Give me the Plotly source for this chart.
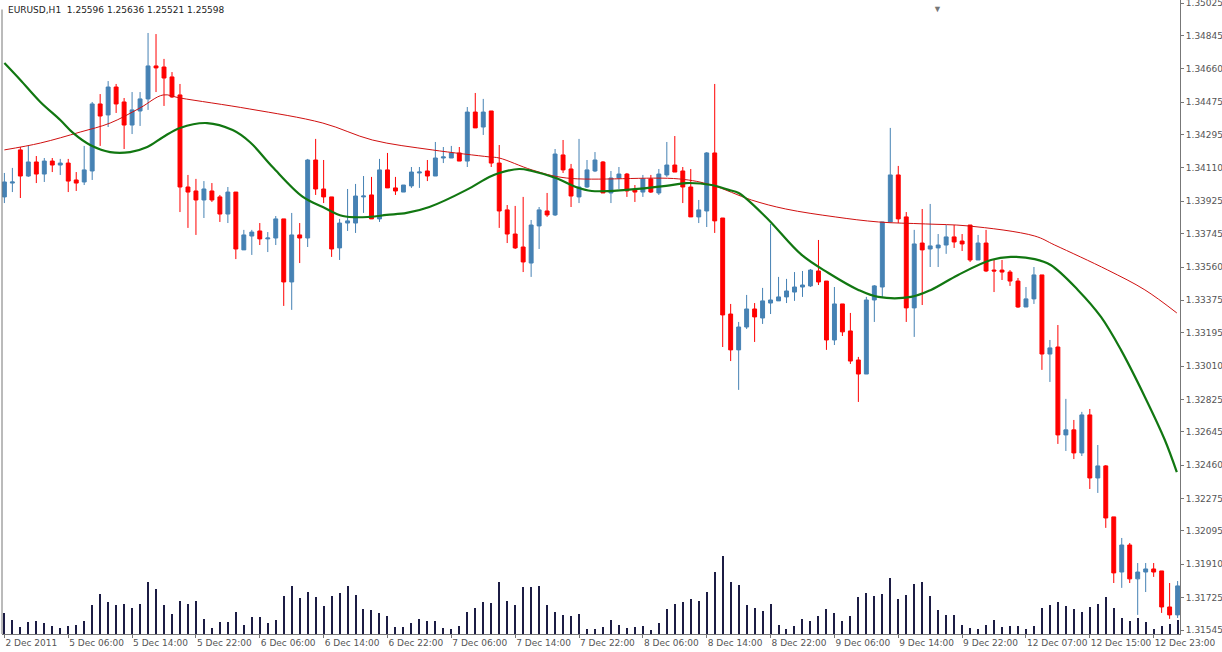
import plotly.graph_objects as go

opens = [1.33949,1.34026,1.34210,1.34065,1.34143,1.34076,1.34148,1.34126,1.34137,1.34043,
1.34032,1.34093,1.34465,1.34404,1.34559,1.34476,1.34348,1.34426,1.34493,1.34676,
1.34670,1.34615,1.34515,1.34004,1.33982,1.33932,1.33982,1.33949,1.33854,1.33976,
1.33655,1.33732,1.33760,1.33716,1.33721,1.33827,1.33477,1.33738,1.33721,1.34154,
1.33993,1.33949,1.33666,1.33804,1.33804,1.33949,1.33960,1.33827,1.34099,1.33999,
1.33976,1.34010,1.34082,1.34093,1.34065,1.34165,1.34165,1.34193,1.34148,1.34420,
1.34337,1.34426,1.34137,1.33877,1.33743,1.33671,1.33582,1.33788,1.33871,1.33849,
1.34182,1.34104,1.33949,1.34004,1.34093,1.34143,1.33971,1.34054,1.34076,1.33988,
1.33976,1.34049,1.33971,1.34071,1.34126,1.34093,1.34004,1.33838,1.33871,1.34193,
1.33832,1.33299,1.33100,1.33227,1.33327,1.33277,1.33360,1.33372,1.33394,1.33421,
1.33449,1.33455,1.33538,1.33482,1.33155,1.33355,1.33205,1.33044,1.32966,1.33377,
1.33449,1.33810,1.34071,1.33838,1.33333,1.33693,1.33660,1.33666,1.33682,1.33727,
1.33704,1.33793,1.33599,1.33693,1.33543,1.33543,1.33532,1.33482,1.33338,1.33383,
1.33516,1.33077,1.33116,1.32628,1.32656,1.32528,1.32739,1.32389,1.32456,1.32173,
1.31867,1.32017,1.31829,1.31867,1.31884,1.31873,1.31673,1.31629]
highs = [1.34082,1.34110,1.34226,1.34232,1.34176,1.34165,1.34165,1.34160,1.34160,1.34087,
1.34232,1.34476,1.34520,1.34592,1.34576,1.34498,1.34531,1.34531,1.34859,1.34853,
1.34715,1.34642,1.34576,1.34071,1.34049,1.34037,1.34026,1.33960,1.34004,1.33976,
1.33766,1.33766,1.33804,1.33754,1.33843,1.33827,1.33860,1.33804,1.34160,1.34271,
1.34154,1.33949,1.33827,1.33993,1.34021,1.34065,1.34060,1.34160,1.34193,1.34060,
1.34015,1.34115,1.34115,1.34154,1.34254,1.34226,1.34232,1.34226,1.34448,1.34526,
1.34493,1.34426,1.34237,1.33904,1.33899,1.33949,1.33821,1.33893,1.33971,1.34215,
1.34265,1.34132,1.34271,1.34154,1.34198,1.34148,1.34093,1.34115,1.34082,1.34015,
1.34071,1.34071,1.34104,1.34254,1.34287,1.34115,1.34104,1.33932,1.34198,1.34576,
1.33832,1.33355,1.33255,1.33405,1.33360,1.33444,1.33799,1.33505,1.33494,1.33532,
1.33538,1.33549,1.33710,1.33482,1.33449,1.33355,1.33305,1.33061,1.33394,1.33460,
1.33810,1.34332,1.34121,1.33865,1.33766,1.33882,1.33910,1.33743,1.33793,1.33793,
1.33743,1.33793,1.33738,1.33766,1.33599,1.33599,1.33543,1.33499,1.33449,1.33560,
1.33516,1.33155,1.33238,1.32828,1.32711,1.32756,1.32772,1.32572,1.32461,1.32173,
1.32056,1.32028,1.31917,1.31917,1.31917,1.31873,1.31806,1.31817]
lows = [1.33915,1.33976,1.33943,1.34060,1.34026,1.34032,1.34087,1.34071,1.33976,1.33982,
1.34015,1.34043,1.34232,1.34337,1.34415,1.34215,1.34298,1.34343,1.34432,1.34531,
1.34454,1.34498,1.33865,1.33777,1.33738,1.33832,1.33921,1.33810,1.33804,1.33604,
1.33655,1.33627,1.33682,1.33643,1.33682,1.33344,1.33322,1.33582,1.33671,1.33960,
1.33915,1.33616,1.33599,1.33760,1.33749,1.33860,1.33827,1.33810,1.33999,1.33960,
1.33976,1.33999,1.33999,1.34037,1.34065,1.34137,1.34165,1.34148,1.34115,1.34332,
1.34293,1.34115,1.33777,1.33693,1.33660,1.33532,1.33505,1.33660,1.33838,1.33843,
1.34082,1.33893,1.33915,1.33999,1.34087,1.33971,1.33915,1.33993,1.33949,1.33921,
1.33949,1.33971,1.33960,1.34060,1.34087,1.33915,1.33838,1.33804,1.33782,1.33749,
1.33116,1.33038,1.32878,1.33216,1.33144,1.33244,1.33299,1.33372,1.33360,1.33372,
1.33394,1.33449,1.33460,1.33100,1.33127,1.33177,1.33022,1.32811,1.32966,1.33255,
1.33394,1.33810,1.33804,1.33255,1.33172,1.33349,1.33560,1.33560,1.33633,1.33666,
1.33649,1.33588,1.33599,1.33532,1.33421,1.33488,1.33455,1.33333,1.33338,1.33355,
1.32989,1.32922,1.32578,1.32539,1.32494,1.32511,1.32328,1.32306,1.32112,1.31806,
1.31779,1.31806,1.31629,1.31756,1.31840,1.31640,1.31607,1.31612]
closes = [1.34032,1.34032,1.34065,1.34143,1.34076,1.34148,1.34126,1.34137,1.34037,1.34026,
1.34099,1.34465,1.34398,1.34559,1.34465,1.34348,1.34432,1.34493,1.34676,1.34665,
1.34609,1.34504,1.34004,1.33976,1.33932,1.33993,1.33932,1.33854,1.33976,1.33660,
1.33738,1.33754,1.33716,1.33721,1.33827,1.33477,1.33738,1.33721,1.34154,1.33993,
1.33949,1.33660,1.33804,1.33816,1.33954,1.33954,1.33827,1.34099,1.33999,1.33982,
1.34015,1.34087,1.34087,1.34065,1.34165,1.34171,1.34193,1.34148,1.34420,1.34332,
1.34420,1.34137,1.33871,1.33743,1.33666,1.33588,1.33793,1.33877,1.33849,1.34187,
1.34099,1.33954,1.34004,1.34099,1.34154,1.33971,1.34054,1.34076,1.33982,1.33976,
1.34049,1.33976,1.34076,1.34126,1.34087,1.34004,1.33838,1.33877,1.34193,1.33816,
1.33294,1.33100,1.33227,1.33327,1.33283,1.33372,1.33377,1.33394,1.33427,1.33449,
1.33460,1.33543,1.33477,1.33155,1.33355,1.33200,1.33038,1.32966,1.33377,1.33455,
1.33810,1.34071,1.33827,1.33333,1.33688,1.33655,1.33677,1.33682,1.33727,1.33699,
1.33688,1.33599,1.33693,1.33538,1.33538,1.33532,1.33482,1.33338,1.33383,1.33516,
1.33077,1.33111,1.32628,1.32656,1.32528,1.32739,1.32389,1.32456,1.32167,1.31862,
1.32017,1.31829,1.31867,1.31884,1.31867,1.31673,1.31629,1.31790]
volumes = [62,42,22,37,39,34,24,18,24,27,39,87,120,96,87,90,78,90,156,135,
87,60,99,90,99,45,18,36,36,66,27,51,51,33,42,114,144,108,126,111,
84,114,123,144,117,75,72,63,54,21,21,33,45,39,39,18,15,24,66,78,
96,93,156,99,87,141,141,144,87,66,57,54,60,15,15,21,42,27,18,21,
24,12,33,75,90,96,105,99,126,186,234,156,147,87,78,69,90,27,15,24,
45,39,54,75,63,39,54,111,123,114,120,168,105,117,150,156,114,72,57,57,
27,18,15,27,42,21,24,24,15,24,78,87,96,84,75,66,81,90,111,78,
48,39,48,36,15,24,30,42]

fast_ma_x = [0,2,4.5,7,8.6,10.75,13.25,15.75,17.9,19.9,22,25.4,28.6,30.75,33.6,37.4,39.9,42.4,45.75,47.9,
50.4,53.25,57.9,60.75,62,64.5,66.1,69.1,71.6,73.6,77.9,82.9,85.4,88.6,90.75,92,95.4,99.9,103.25,107,
109.5,113.6,116.1,119.5,123.6,126.1,129.1,131.1,134.5,137.4,139.9,142.9,145.4,146.9]
fast_ma = [1.34692,1.34598,1.34476,1.34376,1.34304,1.34237,1.34198,1.34198,1.34226,1.34282,1.34332,1.34359,1.34320,1.34254,1.34115,1.33949,1.33893,1.33843,1.33838,1.33849,
1.33860,1.33893,1.33988,1.34060,1.34082,1.34104,1.34093,1.34054,1.34004,1.33982,1.33988,1.34010,1.34026,1.34015,1.33988,1.33971,1.33838,1.33627,1.33527,1.33433,
1.33394,1.33394,1.33433,1.33516,1.33599,1.33616,1.33604,1.33571,1.33433,1.33283,1.33100,1.32839,1.32600,1.32422]
slow_ma_x = [0,4.5,9.5,13.25,17,19.9,22,30.75,39.9,46.1,53.6,60.75,62,66.1,70.4,84.5,88.6,93.6,97.9,104.1,
109.5,115.4,120.75,129.1,131.6,138.25,142.9,146.9]
slow_ma = [1.34210,1.34248,1.34309,1.34359,1.34443,1.34515,1.34498,1.34437,1.34359,1.34265,1.34210,1.34171,1.34165,1.34099,1.34054,1.34049,1.34015,1.33932,1.33882,1.33838,
1.33810,1.33799,1.33788,1.33732,1.33682,1.33543,1.33433,1.33305]

price_ticks = [1.35025,1.34845,1.34660,1.34475,1.34295,1.34110,1.33925,1.33745,1.33560,1.33375,
1.33195,1.33010,1.32825,1.32645,1.32460,1.32275,1.32095,1.31910,1.31725,1.31545]
time_labels = ["2 Dec 2011","5 Dec 06:00","5 Dec 14:00","5 Dec 22:00","6 Dec 06:00","6 Dec 14:00",
"6 Dec 22:00","7 Dec 06:00","7 Dec 14:00","7 Dec 22:00","8 Dec 06:00","8 Dec 14:00","8 Dec 22:00",
"9 Dec 06:00","9 Dec 14:00","9 Dec 22:00","12 Dec 07:00","12 Dec 15:00","12 Dec 23:00"]
title_text = "EURUSD,H1  1.25596 1.25636 1.25521 1.25598"

idx = list(range(len(opens)))
tick_idx = [i * 8 for i in range(len(time_labels))]

fig = go.Figure()
fig.add_trace(go.Bar(x=idx, y=volumes, yaxis="y2", width=0.14,
                     marker=dict(color="#1c1c44", line=dict(width=0)), hoverinfo="skip"))
fig.add_trace(go.Candlestick(x=idx, open=opens, high=highs, low=lows, close=closes,
    increasing=dict(line=dict(color="#4682B4", width=1), fillcolor="#4682B4"),
    decreasing=dict(line=dict(color="#FF0000", width=1), fillcolor="#FF0000"),
    whiskerwidth=0))
fig.add_trace(go.Scatter(x=slow_ma_x, y=slow_ma, mode="lines", line=dict(color="#d01010", width=1, shape="spline")))
fig.add_trace(go.Scatter(x=fast_ma_x, y=fast_ma, mode="lines", line=dict(color="#117711", width=2.2, shape="spline")))

fnt = dict(family="DejaVu Sans", size=9, color="#555555")
fig.update_layout(
    width=1222, height=652, showlegend=False, plot_bgcolor="white", paper_bgcolor="white",
    margin=dict(l=2, r=42, t=0, b=18, autoexpand=False), bargap=0,
    xaxis=dict(range=[-0.3, 147.3], tickvals=tick_idx, ticktext=time_labels, showgrid=False,
               zeroline=False, showline=True, linecolor="#777777", ticks="outside", ticklen=3,
               tickcolor="#777777", tickfont=fnt, rangeslider=dict(visible=False), automargin=False,
               ticklabelposition="outside right", ticklabeloverflow="allow", tickangle=0),
    yaxis=dict(side="right", range=[1.31523, 1.35042], tickvals=price_ticks, tickformat=".5f",
               showgrid=False, zeroline=False, showline=True, linecolor="#777777", ticks="outside",
               ticklen=3, tickcolor="#777777", tickfont=fnt, automargin=False, ticklabeloverflow="allow"),
    yaxis2=dict(overlaying="y", range=[0, 1902], visible=False),
    annotations=[dict(text=title_text, x=0.003, y=0.995, xref="paper", yref="paper", xanchor="left",
                      yanchor="top", showarrow=False, font=dict(family="DejaVu Sans", size=9, color="#222")),
                 dict(text="▼", x=(944 - 2) / 1178, y=1.0, xref="paper", yref="paper", yanchor="top",
                      showarrow=False, font=dict(size=9, color="#777777"))],
    shapes=[dict(type="line", xref="paper", yref="paper", x0=0, x1=0, y0=0, y1=0.985,
                 line=dict(color="#777777", width=1))],
)
fig.write_html("out.html", config={"displayModeBar": False},
               post_script="document.body.style.margin='0';document.body.style.overflow='hidden';")
